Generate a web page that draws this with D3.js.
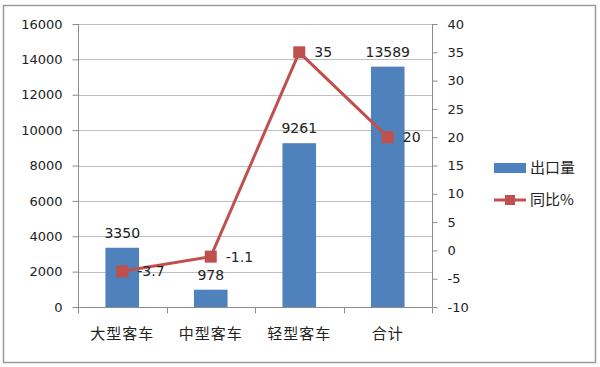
<!DOCTYPE html>
<html>
<head>
<meta charset="utf-8">
<script src="https://cdn.jsdelivr.net/npm/d3@7"></script>
<style>
  body { margin: 0; background: #fff; }
  text { font-family: "DejaVu Sans", sans-serif; fill: #222; }
  .cjk { font-family: "Noto Sans CJK SC", sans-serif; }
</style>
</head>
<body>
<svg id="chart" width="600" height="367"></svg>
<script>
(function() {
    // data
    var categories = ["大型客车", "中型客车", "轻型客车", "合计"];
    var exports = [3350, 978, 9261, 13589];
    var growth = [-3.7, -1.1, 35, 20];
    var leftTicks = [0, 2000, 4000, 6000, 8000, 10000, 12000, 14000, 16000];
    var rightTicks = [-10, -5, 0, 5, 10, 15, 20, 25, 30, 35, 40];

    var barColor = "#4F81BD", lineColor = "#C0504D", gridColor = "#BFBFBF";
    var left = 78, right = 432, top = 24, bottom = 307;
    var fmt = d => String(d); // plain hyphen for negatives, like the original

    const svg = d3.select("#chart");

    // outer frame
    svg.append("rect")
        .attr("x", 3.5).attr("y", 5.5)
        .attr("width", 592).attr("height", 357)
        .attr("fill", "#fff").attr("stroke", "#9a9a9a").attr("stroke-width", 1.5);

    var x = d3.scaleBand().domain(categories).range([left, right]).paddingInner(0.62).paddingOuter(0.31);
    var y = d3.scaleLinear().domain([0, 16000]).range([bottom, top]);
    var y2 = d3.scaleLinear().domain([-10, 40]).range([bottom, top]);

    // gridlines
    svg.append("g").selectAll("line")
        .data(leftTicks.slice(1))
        .enter().append("line")
        .attr("x1", left).attr("x2", right)
        .attr("y1", d => Math.round(y(d)) + 0.5).attr("y2", d => Math.round(y(d)) + 0.5)
        .attr("stroke", gridColor);

    // left axis
    var ax = svg.append("g")
        .attr("transform", `translate(${left + 0.5},0)`)
        .call(d3.axisLeft(y).tickValues(leftTicks).tickSize(6).tickPadding(10).tickFormat(fmt));
    ax.selectAll("path, line").attr("stroke", "#8c8c8c");
    ax.select(".domain").attr("d", `M0,${top}V${bottom}`);
    ax.selectAll("text").attr("font-size", 13).attr("fill", "#222");

    // right axis
    var ax2 = svg.append("g")
        .attr("transform", `translate(${right + 0.5},0)`)
        .call(d3.axisRight(y2).tickValues(rightTicks).tickSize(5).tickPadding(10).tickFormat(fmt));
    ax2.selectAll("path, line").attr("stroke", "#8c8c8c");
    ax2.select(".domain").attr("d", `M0,${top}V${bottom}`);
    ax2.selectAll("text").attr("font-size", 13).attr("fill", "#222");

    // bottom axis
    var xs = d3.scalePoint().domain(d3.range(categories.length + 1)).range([left, right]);
    var bx = svg.append("g").attr("transform", `translate(0,${bottom + 0.5})`);
    bx.append("line").attr("x1", left).attr("x2", right).attr("stroke", "#8c8c8c");
    bx.selectAll(".tk").data(d3.range(categories.length + 1)).enter().append("line")
        .attr("x1", d => Math.round(xs(d)) + 0.5).attr("x2", d => Math.round(xs(d)) + 0.5)
        .attr("y1", 0).attr("y2", 6).attr("stroke", "#8c8c8c");
    bx.selectAll(".lbl").data(categories).enter().append("text")
        .attr("class", "cjk")
        .attr("x", d => x(d) + x.bandwidth() / 2)
        .attr("y", 31)
        .attr("text-anchor", "middle")
        .attr("font-size", 15)
        .attr("letter-spacing", 1)
        .text(d => d);

    // bars
    svg.append("g").selectAll("rect")
        .data(exports)
        .enter().append("rect")
        .attr("x", (d, i) => x(categories[i]))
        .attr("y", d => y(d))
        .attr("width", x.bandwidth())
        .attr("height", d => bottom - y(d))
        .attr("fill", barColor);

    svg.append("g").selectAll("text")
        .data(exports)
        .enter().append("text")
        .attr("x", (d, i) => x(categories[i]) + x.bandwidth() / 2)
        .attr("y", d => y(d) - 10)
        .attr("text-anchor", "middle")
        .attr("font-size", 14)
        .text(d => d);

    // growth line
    var cx = (d, i) => x(categories[i]) + x.bandwidth() / 2;
    svg.append("path")
        .datum(growth)
        .attr("d", d3.line().x(cx).y(d => y2(d)))
        .attr("fill", "none")
        .attr("stroke", lineColor)
        .attr("stroke-width", 3);

    svg.append("g").selectAll("rect")
        .data(growth)
        .enter().append("rect")
        .attr("x", (d, i) => cx(d, i) - 6)
        .attr("y", d => y2(d) - 6)
        .attr("width", 12).attr("height", 12)
        .attr("fill", lineColor);

    svg.append("g").selectAll("text")
        .data(growth)
        .enter().append("text")
        .attr("x", (d, i) => cx(d, i) + 15)
        .attr("y", d => y2(d) + 5)
        .attr("font-size", 14)
        .text(fmt);

    // legend
    var lg = svg.append("g");
    lg.append("rect").attr("x", 494).attr("y", 163).attr("width", 32).attr("height", 10).attr("fill", barColor);
    lg.append("text").attr("class", "cjk").attr("x", 530).attr("y", 173).attr("font-size", 15).text("出口量");
    lg.append("line").attr("x1", 494).attr("x2", 526).attr("y1", 200).attr("y2", 200)
        .attr("stroke", lineColor).attr("stroke-width", 3);
    lg.append("rect").attr("x", 505).attr("y", 195).attr("width", 10).attr("height", 10).attr("fill", lineColor);
    lg.append("text").attr("class", "cjk").attr("x", 530).attr("y", 205).attr("font-size", 15).text("同比%");
})();
</script>
</body>
</html>
